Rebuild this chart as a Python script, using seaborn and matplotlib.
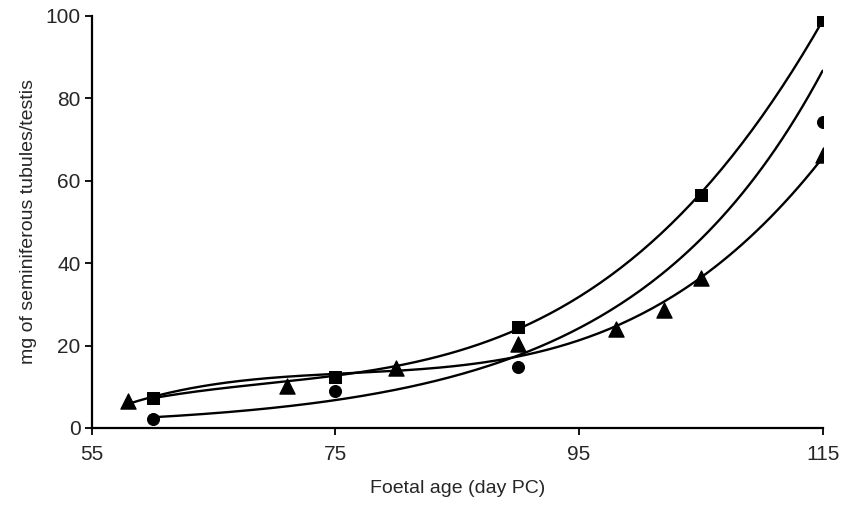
import numpy as np
import pandas as pd
import seaborn as sns
import matplotlib.pyplot as plt

# data (foetal age, day PC -> mg tubules/testis)
sq_age = [60, 75, 90, 105, 115]
sq_mg = [7.3, 12.4, 24.5, 56.6, 99.0]

# the 105 point sits under the square marker
ci_age = [60, 75, 90, 105, 115]
ci_mg = [2.2, 9.0, 14.8, 56.5, 74.3]

tr_age = [58, 71, 80, 90, 98, 102, 105, 115]
tr_mg = [6.5, 10.2, 14.6, 20.4, 24.0, 28.6, 36.4, 66.3]

sns.set_style("ticks")
plt.rcParams['font.family'] = ['Liberation Sans', 'DejaVu Sans']

fig = plt.figure(figsize=(8.42, 5.15), dpi=100)
ax = fig.add_axes([0.109, 0.169, 0.868, 0.8])


def trend(x, y, kind):
    # trendlines like a spreadsheet would draw them
    x = np.asarray(x, float)
    y = np.asarray(y, float)
    xs = np.linspace(x.min(), x.max(), 200)
    if kind == "exp":
        b, a = np.polyfit(x, np.log(y), 1)
        ys = np.exp(a + b * xs)
    else:
        ys = np.polyval(np.polyfit(x, y, 3), xs)
    return pd.DataFrame({"age": xs, "mg": ys})


for ages, mgs, kind in [(sq_age, sq_mg, "poly"), (ci_age, ci_mg, "exp"), (tr_age, tr_mg, "poly")]:
    sns.lineplot(data=trend(ages, mgs, kind), x="age", y="mg", ax=ax,
                 color="black", lw=1.7, zorder=2)

sns.scatterplot(x=ci_age, y=ci_mg, ax=ax, marker="o", s=75, color="black",
                edgecolor="black", zorder=3)
sns.scatterplot(x=tr_age, y=tr_mg, ax=ax, marker="^", s=120, color="black",
                edgecolor="black", zorder=3)
sns.scatterplot(x=sq_age, y=sq_mg, ax=ax, marker="s", s=85, color="black",
                edgecolor="black", zorder=4)

ax.set_xlim(55, 115)
ax.set_ylim(0, 100)
ax.set_xticks([55, 75, 95, 115])
ax.set_yticks([0, 20, 40, 60, 80, 100])
ax.set_xlabel("Foetal age (day PC)", fontsize=14, labelpad=12)
ax.set_ylabel("mg of seminiferous tubules/testis", fontsize=14, labelpad=6)
ax.tick_params(labelsize=15, length=5, width=1.3, color="black", pad=7)
ax.tick_params(axis="y", pad=3)
for side in ["left", "bottom"]:
    ax.spines[side].set_linewidth(1.6)
    ax.spines[side].set_color("black")
sns.despine(ax=ax)

plt.savefig("out.png", dpi=100)
